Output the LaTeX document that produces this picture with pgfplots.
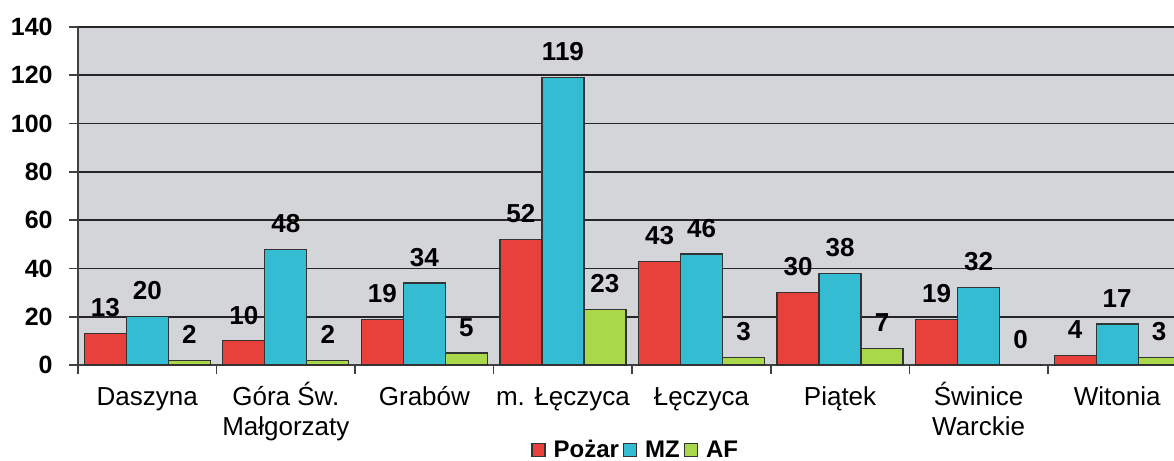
\documentclass[border=0pt]{standalone}
\usepackage{pgfplots}
\pgfplotsset{compat=1.18}
\usepackage{fontspec}
\setmainfont{Liberation Sans}
\usetikzlibrary{calc}

\definecolor{cPozar}{HTML}{E8403A}
\definecolor{cMZ}{HTML}{33BCD2}
\definecolor{cAF}{HTML}{A9D84B}
\definecolor{plotbg}{HTML}{D4D5D8}

\begin{document}
\begin{tikzpicture}
\begin{axis}[
    width=548pt, height=169pt, scale only axis,
    ybar=0pt, bar width=21pt,
    xmin=-0.5, xmax=7.41,
    ymin=0, ymax=140,
    ytick={0,20,...,140},
    ymajorgrids, grid style={black!85, line width=0.8pt},
    axis background/.style={fill=plotbg},
    axis x line*=bottom, axis y line*=left,
    axis line style={-, draw=black!75, line width=0.9pt},
    tick align=outside, major tick length=4.5pt,
    tick style={draw=black!75, line width=0.8pt},
    xtick={-0.5,0.5,...,6.5},
    xticklabels={\relax,\relax,\relax,\relax,\relax,\relax,\relax,\relax},
    extra x ticks={0,1,2,3,4,5,6,7},
    extra x tick labels={
        \rule{0pt}{12pt}Daszyna,
        {\rule{0pt}{12pt}Góra Św.\\Małgorzaty},
        \rule{0pt}{12pt}Grabów,
        \rule{0pt}{12pt}m. Łęczyca,
        \rule{0pt}{12pt}Łęczyca,
        \rule{0pt}{12pt}Piątek,
        {\rule{0pt}{12pt}Świnice\\Warckie},
        \rule{0pt}{12pt}Witonia},
    extra x tick style={major tick length=0pt, grid=none,
        xticklabel style={anchor=north, inner sep=0pt, yshift=-8pt, align=center,
            font=\fontsize{13}{15}\selectfont}},
    /pgf/number format/assume math mode=true,
    yticklabel style={font=\bfseries\fontsize{12.5}{15}\selectfont, inner sep=0pt, xshift=-8pt},
    nodes near coords,
    every node near coord/.append style={font=\bfseries\fontsize{13}{15}\selectfont,
        anchor=south, inner sep=0pt, yshift=8pt, black},
    legend style={at={(axis description cs:0.508,-0.253)}, anchor=center,
        draw=none, fill=none, legend columns=-1, inner sep=0pt,
        nodes={inner sep=0pt},
        font=\bfseries\fontsize{12}{14}\selectfont,
        /tikz/every even column/.style={column sep=2pt},
        /tikz/every odd column/.style={column sep=4pt}},
    legend image code/.code={\draw[#1, draw=black!80, line width=0.6pt] (0pt,-3pt) rectangle (6.5pt,3.5pt);},
]
\addplot[fill=cPozar, draw=black!80, line width=0.6pt] coordinates
    {(0,13) (1,10) (2,19) (3,52) (4,43) (5,30) (6,19) (7,4)};
\addplot[fill=cMZ, draw=black!80, line width=0.6pt] coordinates
    {(0,20) (1,48) (2,34) (3,119) (4,46) (5,38) (6,32) (7,17)};
\addplot[fill=cAF, draw=black!80, line width=0.6pt] coordinates
    {(0,2) (1,2) (2,5) (3,23) (4,3) (5,7) (6,0) (7,3)};
\legend{Pożar, MZ, AF}
\coordinate (O) at (rel axis cs:0,0);
\end{axis}
\pgfresetboundingbox
\path[use as bounding box] ($(O)+(-39pt,-48pt)$) rectangle ($(O)+(548pt,182.5pt)$);
\end{tikzpicture}
\end{document}
